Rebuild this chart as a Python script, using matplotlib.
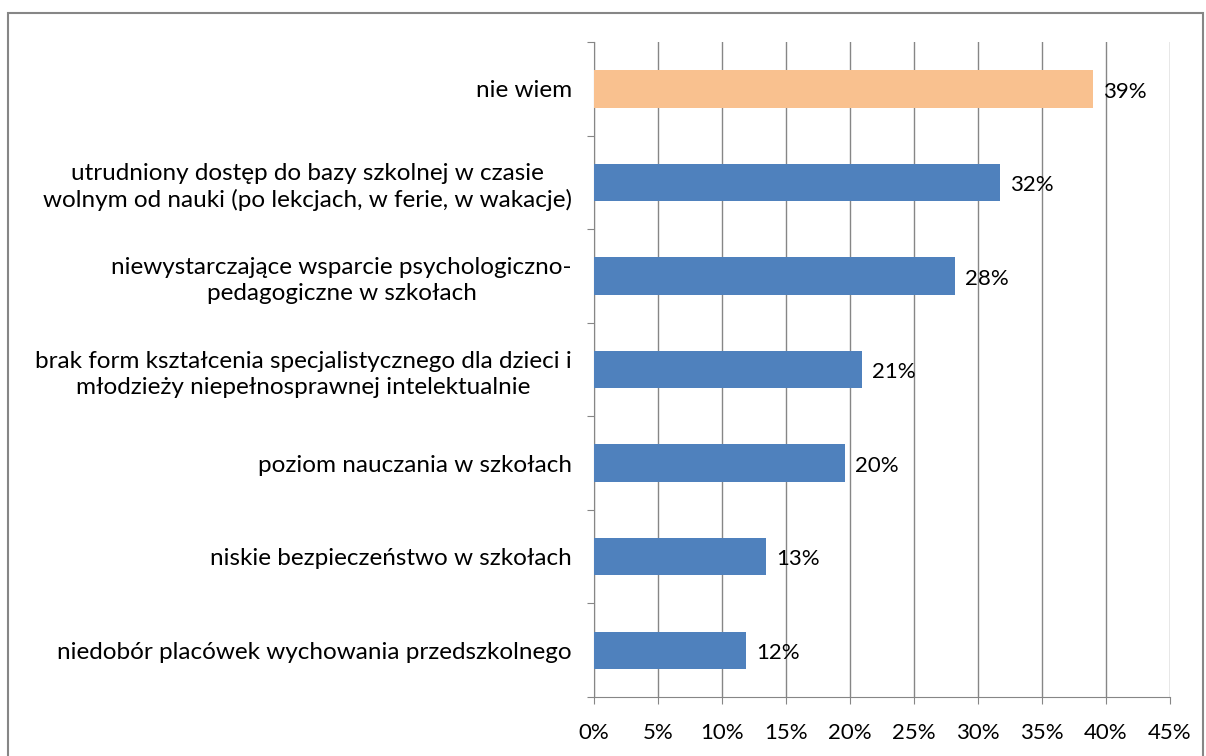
import matplotlib.pyplot as plt
from matplotlib.patches import Rectangle

# categories from bottom to top
labels = ["niedobór placówek wychowania przedszkolnego",
          "niskie bezpieczeństwo w szkołach",
          "poziom nauczania w szkołach",
          "brak form kształcenia specjalistycznego dla dzieci i\nmłodzieży niepełnosprawnej intelektualnie",
          "niewystarczające wsparcie psychologiczno-\npedagogiczne w szkołach",
          "utrudniony dostęp do bazy szkolnej w czasie\nwolnym od nauki (po lekcjach, w ferie, w wakacje)",
          "nie wiem"]
values = [11.9, 13.4, 19.6, 20.9, 28.2, 31.7, 39.0]
value_labels = ["12%", "13%", "20%", "21%", "28%", "32%", "39%"]
colors = ["#4F81BD"] * 6 + ["#F9C18F"]

xticks = [0, 5, 10, 15, 20, 25, 30, 35, 40, 45]

plt.rcParams['font.family'] = ['Lato', 'DejaVu Sans']

fig = plt.figure(figsize=(12.06, 7.56), dpi=100)
ax = fig.add_axes([594/1206, 1-697/756, 576/1206, 655/756])

pos = list(range(len(labels)))
ax.barh(pos, values, height=0.4, color=colors, zorder=3)
for p, v, t in zip(pos, values, value_labels):
    ax.text(v + 0.8, p - 0.03, t, va='center', ha='left', fontsize=16, zorder=4)

ax.set_xlim(0, 45)
ax.set_ylim(-0.5, len(labels) - 0.5)
ax.set_xticks(xticks)
ax.set_xticklabels([str(x) + "%" for x in xticks], fontsize=16)
ax.set_yticks([p - 0.5 for p in range(len(labels) + 1)])
ax.set_yticklabels([])
ax.set_yticks(pos, minor=True)
ax.set_yticklabels(labels, minor=True, fontsize=17.5, multialignment='center', linespacing=1.3)
ax.tick_params(axis='y', which='minor', length=0, pad=16)
ax.tick_params(axis='y', which='major', length=5, color='#868686', direction='out')
ax.tick_params(axis='x', length=5, color='#868686', direction='out', pad=14)

ax.grid(axis='x', color='#868686', linewidth=1, zorder=0)
for s in ['top', 'right']:
    ax.spines[s].set_visible(False)
for s in ['left', 'bottom']:
    ax.spines[s].set_color('#868686')

# outer frame of the chart area
fig.patches.append(Rectangle((8/1206, -0.1), 1195/1206, 1.1 - 13/756, transform=fig.transFigure,
                             fill=False, edgecolor='#868686', linewidth=1.5))

plt.savefig("out.png", dpi=100)
